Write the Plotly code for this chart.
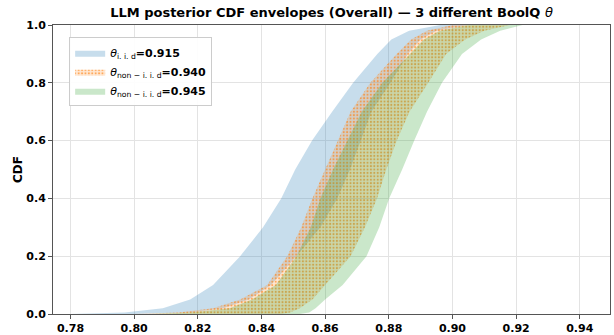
import plotly.graph_objects as go

# CDF levels at which the envelope edges were read
cdf_levels = [0.0, 0.005, 0.02, 0.05, 0.10, 0.20, 0.30, 0.40, 0.50, 0.60, 0.70, 0.80, 0.90, 0.95, 0.98, 1.0]

# theta_iid = 0.915 envelope (left = upper CDF curve, right = lower CDF curve)
iid_left  = [0.780, 0.797, 0.809, 0.8176, 0.8248, 0.8333, 0.8405, 0.8462, 0.8506, 0.8559, 0.8622, 0.8688, 0.8764, 0.8808, 0.8864, 0.8962]
iid_right = [0.800, 0.818, 0.828, 0.836, 0.843, 0.851, 0.8585, 0.8638, 0.8678, 0.8712, 0.8745, 0.8805, 0.8860, 0.8900, 0.8950, 0.9050]

# theta_non-iid = 0.940 envelope
n940_left  = [0.800, 0.814, 0.8248, 0.8333, 0.8418, 0.8481, 0.8525, 0.8560, 0.8600, 0.8640, 0.8680, 0.8742, 0.8825, 0.8870, 0.8920, 0.9000]
n940_right = [0.846, 0.849, 0.852, 0.856, 0.860, 0.868, 0.8725, 0.8763, 0.8792, 0.8825, 0.8865, 0.8924, 0.8980, 0.9040, 0.9100, 0.9180]

# theta_non-iid = 0.945 envelope
n945_left  = [0.805, 0.818, 0.830, 0.837, 0.8445, 0.8510, 0.8555, 0.8585, 0.8625, 0.8670, 0.8715, 0.8780, 0.8865, 0.8910, 0.8960, 0.9050]
n945_right = [0.852, 0.855, 0.857, 0.860, 0.8655, 0.8730, 0.8770, 0.8801, 0.8842, 0.8880, 0.8920, 0.8967, 0.9030, 0.9090, 0.9150, 0.9220]

x_ticks = [0.78, 0.80, 0.82, 0.84, 0.86, 0.88, 0.90, 0.92, 0.94]
y_ticks = [0.0, 0.2, 0.4, 0.6, 0.8, 1.0]

labels = [
    "<i>θ</i><sub>i. i. d</sub><b>=0.915</b>",
    "<i>θ</i><sub>non − i. i. d</sub><b>=0.940</b>",
    "<i>θ</i><sub>non − i. i. d</sub><b>=0.945</b>",
]

def band(left, right):
    xs = list(left) + list(reversed(right))
    ys = list(cdf_levels) + list(reversed(cdf_levels))
    return xs, ys

fig = go.Figure()

xs, ys = band(iid_left, iid_right)
fig.add_trace(go.Scatter(x=xs, y=ys, fill="toself", mode="lines", line=dict(width=0),
                         fillcolor="rgba(31,119,180,0.25)", name=labels[0]))

xs, ys = band(n940_left, n940_right)
fig.add_trace(go.Scatter(x=xs, y=ys, fill="toself", mode="lines", line=dict(width=0),
                         fillcolor="rgba(255,127,14,0.22)",
                         fillpattern=dict(shape=".", fgcolor="#ff7f0e", fgopacity=0.6,
                                          bgcolor="rgba(255,150,60,0.22)", size=3.4, solidity=0.3),
                         name=labels[1]))

xs, ys = band(n945_left, n945_right)
fig.add_trace(go.Scatter(x=xs, y=ys, fill="toself", mode="lines", line=dict(width=0),
                         fillcolor="rgba(44,160,44,0.25)", name=labels[2]))

font_family = "DejaVu Sans"

fig.update_layout(
    width=614, height=335,
    margin=dict(l=53, r=4, t=25, b=21),
    paper_bgcolor="white", plot_bgcolor="white",
    title=dict(text="<b>LLM posterior CDF envelopes (Overall) — 3 different BoolQ </b><i>θ</i>",
               x=(53 + 610) / 2 / 614, xanchor="center", y=1 - 12 / 335, yanchor="middle",
               font=dict(family=font_family, size=13, color="black")),
    showlegend=True,
    legend=dict(x=0.029, y=0.958, xanchor="left", yanchor="top",
                bgcolor="rgba(255,255,255,0.9)", bordercolor="#cccccc", borderwidth=1,
                font=dict(family=font_family, size=11, color="black"),
                tracegroupgap=0, itemwidth=30),
    xaxis=dict(range=[0.7745, 0.9495], tickvals=x_ticks, ticktext=[f"{v:.2f}" for v in x_ticks],
               automargin=False,
               showgrid=True, gridcolor="#e3e3e3", gridwidth=1, zeroline=False,
               showline=True, linecolor="#555555", linewidth=1, mirror=True,
               ticks="outside", ticklen=4, tickcolor="#555555",
               tickfont=dict(family=font_family, size=11, color="black", weight="bold")),
    yaxis=dict(range=[0, 1], tickvals=y_ticks, ticktext=[f"{v:.1f}" for v in y_ticks],
               automargin=False,
               showgrid=True, gridcolor="#e3e3e3", gridwidth=1, zeroline=False,
               showline=True, linecolor="#555555", linewidth=1, mirror=True,
               ticks="outside", ticklen=4, tickcolor="#555555",
               tickfont=dict(family=font_family, size=11, color="black", weight="bold"),
               title=dict(text="<b>CDF</b>", standoff=1,
                          font=dict(family=font_family, size=12, color="black"))),
)

fig.write_html("out.html")
